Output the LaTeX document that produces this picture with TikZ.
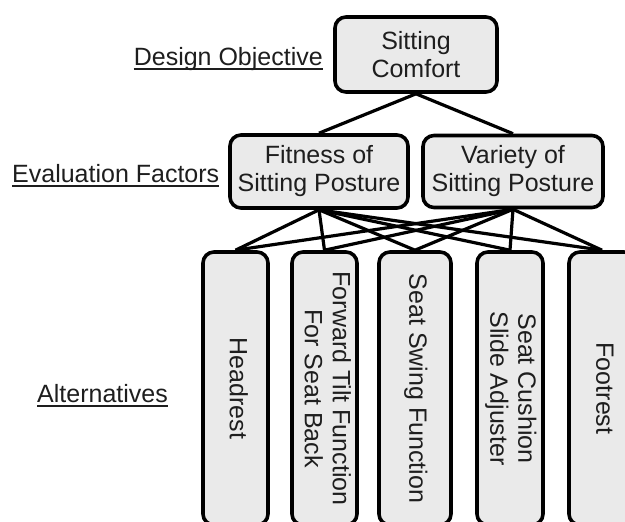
\documentclass[tikz,border=0pt]{standalone}
\usepackage{fontspec}
\setmainfont{Liberation Sans}
\usepackage{graphicx}
\definecolor{boxfill}{HTML}{EAEAEA}
\definecolor{ink}{HTML}{1E1E1E}
\tikzset{
  box/.style={draw=black, line width=3.6pt, fill=boxfill, rounded corners=11pt,
    inner sep=0pt, align=center, text=ink, font=\fontsize{25}{28}\selectfont},
  altbox/.style={box, minimum height=273pt},
  lbl/.style={inner sep=0pt, text=ink, font=\fontsize{25}{28}\selectfont},
  link/.style={draw=black, line width=3.2pt},
  uline/.style={draw=ink, line width=1.4pt}
}
\newcommand{\vtext}[1]{\rotatebox[origin=c]{-90}{\begin{tabular}{@{}c@{}}#1\end{tabular}}}
\begin{document}
\begin{tikzpicture}[x=1pt,y=-1pt]
\useasboundingbox (0,0) rectangle (625,522);
\clip (0,0) rectangle (625,522);
% upper levels
\node[box, minimum width=162pt, minimum height=75pt] (top) at (416,54.5) {Sitting\\Comfort};
\node[box, minimum width=178pt, minimum height=73pt] (fit) at (319,171.5) {Fitness of\\Sitting Posture};
\node[box, minimum width=180pt, minimum height=72pt] (var) at (513,171.5) {Variety of\\Sitting Posture};
% alternatives
\node[altbox, minimum width=65pt] (head) at (235.5,388.5) {\vtext{Headrest}};
\node[altbox, minimum width=65pt] (fwd) at (324.5,388.5) {\vtext{Forward Tilt Function\\For Seat Back}};
\node[altbox, minimum width=72pt] (swing) at (415,388.5) {\vtext{Seat Swing Function}};
\node[altbox, minimum width=66pt] (cush) at (510,388.5) {\vtext{Seat Cushion\\Slide Adjuster}};
\node[altbox, minimum width=66pt] (foot) at (602,388.5) {\vtext{Footrest}};
% connectors
\draw[link] (top.south) -- (fit.north);
\draw[link] (top.south) -- (var.north);
\foreach \a in {head,fwd,swing,cush,foot}{
  \draw[link] (fit.south) -- (\a.north);
  \draw[link] (var.south) -- (\a.north);
}
% level labels
\node[lbl, anchor=base east] (l1) at (323,65) {Design Objective};
\node[lbl, anchor=base west] (l2) at (12,182) {Evaluation Factors};
\node[lbl, anchor=base west] (l3) at (37,402) {Alternatives};
\foreach \l in {l1,l2,l3}{
  \draw[uline] ([yshift=-4pt]\l.base west) -- ([yshift=-4pt]\l.base east);
}
\end{tikzpicture}
\end{document}
